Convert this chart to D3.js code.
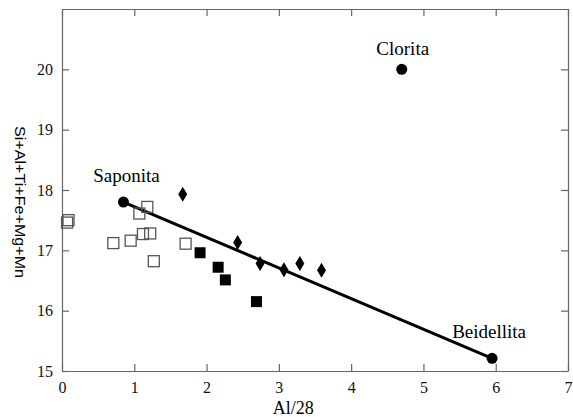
<!DOCTYPE html>
<html>
<head>
<meta charset="utf-8">
<script src="https://cdn.jsdelivr.net/npm/d3@7"></script>
<style>
  body { margin: 0; background: #fff; }
  svg { display: block; }
  .axis path, .axis line { stroke: #666; stroke-width: 1.2; }
  .axis text { font-family: "Liberation Serif", "Times New Roman", serif; font-size: 16px; fill: #111; }
</style>
</head>
<body>
<div id="chart"></div>
<script>
// ----- data -----
var xTicks = [0, 1, 2, 3, 4, 5, 6, 7];
var yTicks = [15, 16, 17, 18, 19, 20];

// end members (filled circles)
var endNames = ["Saponita", "Clorita", "Beidellita"];
var endX = [0.85, 4.70, 5.95];
var endY = [17.80, 20.00, 15.21];

// open squares
var openX = [0.07, 0.09, 0.71, 0.95, 1.07, 1.18, 1.12, 1.22, 1.27, 1.71];
var openY = [17.46, 17.50, 17.12, 17.16, 17.61, 17.72, 17.27, 17.28, 16.82, 17.11];

// filled squares
var fillX = [1.91, 2.16, 2.26, 2.69];
var fillY = [16.96, 16.72, 16.51, 16.15];

// diamonds
var diaX = [1.67, 2.43, 2.74, 3.07, 3.29, 3.59];
var diaY = [17.93, 17.13, 16.78, 16.68, 16.78, 16.67];

// mixing line Saponita -> Beidellita
var lineIdx = [0, 2];

// ----- layout -----
var W = 573, H = 417;
var margin = { top: 9, right: 5, bottom: 46, left: 62 },
    width = W - margin.left - margin.right,
    height = H - margin.top - margin.bottom;

var x = d3.scaleLinear().domain([0, 7]).range([0, width]);
var y = d3.scaleLinear().domain([15, 21]).range([height, 0]);

var svg = d3.select("#chart").append("svg")
    .attr("width", W).attr("height", H)
    .append("g")
    .attr("transform", "translate(" + margin.left + "," + margin.top + ")");

// axes (ticks point inward)
svg.append("g").attr("class", "x axis")
    .attr("transform", "translate(0," + height + ")")
    .call(d3.axisBottom(x).tickValues(xTicks).tickSizeInner(-7).tickSizeOuter(0).tickPadding(11).tickFormat(d3.format("d")));
svg.append("g").attr("class", "x axis")
    .call(d3.axisTop(x).tickValues(xTicks).tickSizeInner(-7).tickSizeOuter(0).tickFormat(""));
svg.append("g").attr("class", "y axis")
    .call(d3.axisLeft(y).tickValues(yTicks).tickSizeInner(-7).tickSizeOuter(0).tickPadding(9).tickFormat(d3.format("d")));
svg.append("g").attr("class", "y axis")
    .attr("transform", "translate(" + width + ",0)")
    .call(d3.axisRight(y).tickValues(yTicks).tickSizeInner(-7).tickSizeOuter(0).tickFormat(""));

// axis titles
svg.append("text")
    .attr("x", x(3.2)).attr("y", height + 43)
    .attr("text-anchor", "middle")
    .style("font-family", "'Liberation Serif', serif")
    .style("font-size", "18px")
    .text("Al/28");
svg.append("text")
    .attr("transform", "translate(" + (-42) + "," + y(17.8) + ") rotate(90)")
    .attr("text-anchor", "middle")
    .attr("dy", "0.35em")
    .attr("textLength", 152)
    .attr("lengthAdjust", "spacingAndGlyphs")
    .style("font-family", "'Liberation Sans', Arial, sans-serif")
    .style("font-size", "14px")
    .text("Si+Al+Ti+Fe+Mg+Mn");

// mixing line
svg.append("line")
    .attr("x1", x(endX[lineIdx[0]])).attr("y1", y(endY[lineIdx[0]]))
    .attr("x2", x(endX[lineIdx[1]])).attr("y2", y(endY[lineIdx[1]]))
    .attr("stroke", "#000").attr("stroke-width", 3);

// open squares
var sq = 11;
svg.selectAll("rect.open").data(d3.range(openX.length)).enter().append("rect")
    .attr("class", "open")
    .attr("x", function(i) { return x(openX[i]) - sq / 2; })
    .attr("y", function(i) { return y(openY[i]) - sq / 2; })
    .attr("width", sq).attr("height", sq)
    .attr("fill", "none").attr("stroke", "#555").attr("stroke-width", 1.3);

// filled squares
svg.selectAll("rect.fill").data(d3.range(fillX.length)).enter().append("rect")
    .attr("class", "fill")
    .attr("x", function(i) { return x(fillX[i]) - sq / 2; })
    .attr("y", function(i) { return y(fillY[i]) - sq / 2; })
    .attr("width", sq).attr("height", sq)
    .attr("fill", "#000");

// diamonds
svg.selectAll("path.dia").data(d3.range(diaX.length)).enter().append("path")
    .attr("class", "dia")
    .attr("transform", function(i) { return "translate(" + x(diaX[i]) + "," + y(diaY[i]) + ")"; })
    .attr("d", "M0,-7.5L4.5,0L0,7.5L-4.5,0Z")
    .attr("fill", "#000");

// end member circles
svg.selectAll("circle.end").data(d3.range(endX.length)).enter().append("circle")
    .attr("class", "end")
    .attr("cx", function(i) { return x(endX[i]); })
    .attr("cy", function(i) { return y(endY[i]); })
    .attr("r", 5.5)
    .attr("fill", "#000");

// end member labels
var labDx = [3, 1, -3], labDy = [-20, -14, -20];
svg.selectAll("text.lab").data(d3.range(endNames.length)).enter().append("text")
    .attr("class", "lab")
    .attr("x", function(i) { return x(endX[i]) + labDx[i]; })
    .attr("y", function(i) { return y(endY[i]) + labDy[i]; })
    .attr("text-anchor", "middle")
    .style("font-family", "'Liberation Serif', serif")
    .style("font-size", "19px")
    .text(function(i) { return endNames[i]; });
</script>
</body>
</html>
